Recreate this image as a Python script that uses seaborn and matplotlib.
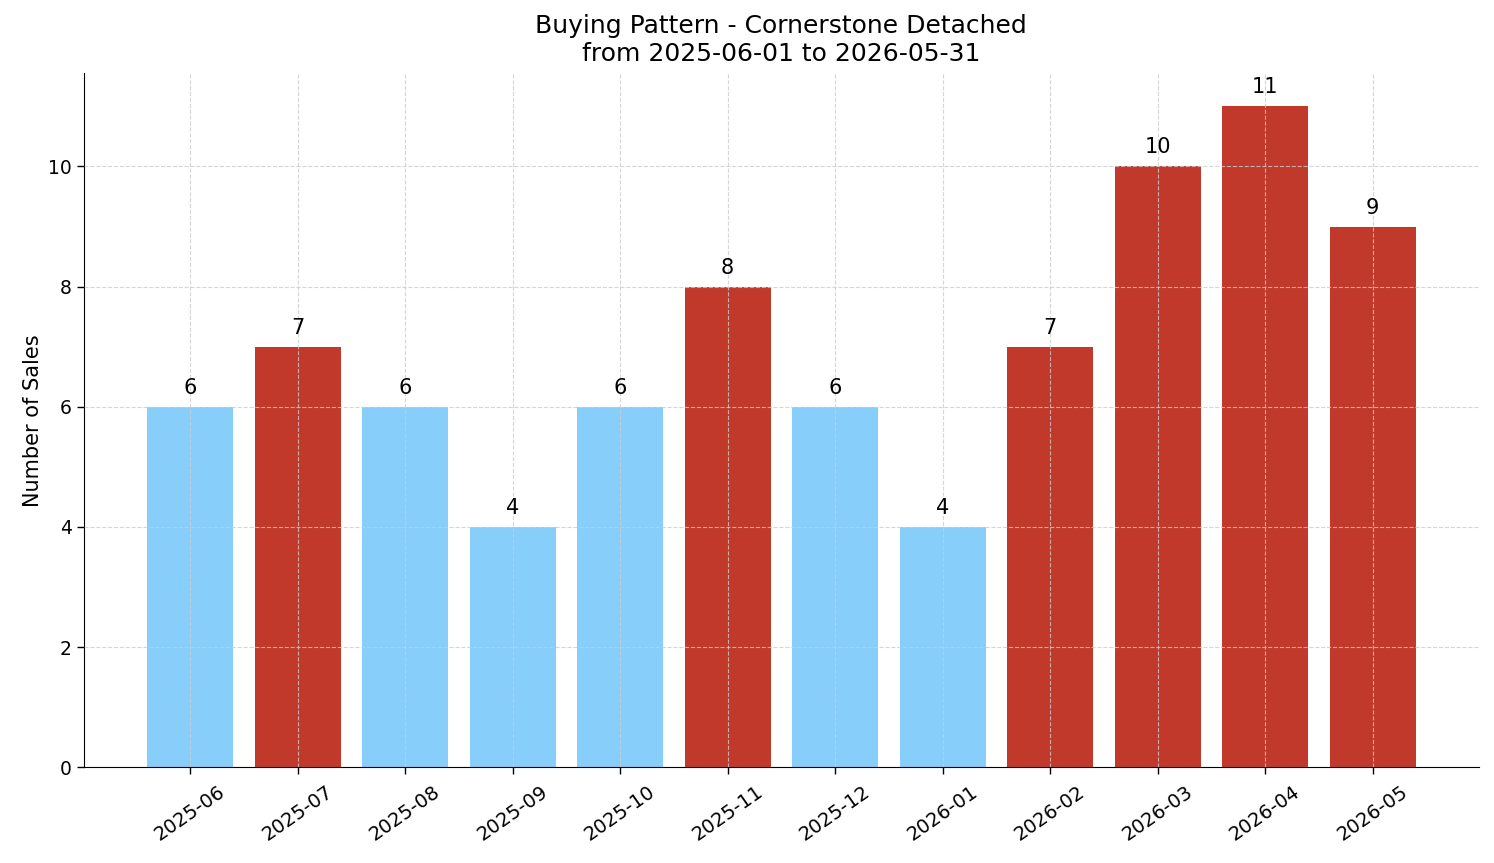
import matplotlib
matplotlib.use("Agg")
import matplotlib.pyplot as plt
import seaborn as sns
import pandas as pd
import numpy as np

months = ["2025-06", "2025-07", "2025-08", "2025-09", "2025-10", "2025-11",
          "2025-12", "2026-01", "2026-02", "2026-03", "2026-04", "2026-05"]
sales = [6, 7, 6, 4, 6, 8, 6, 4, 7, 10, 11, 9]

avg = np.mean(sales)
groups = ["high" if v >= avg else "low" for v in sales]
palette = {"high": "#C0392B", "low": "#87CEFA"}

df = pd.DataFrame({"month": months, "sales": sales, "group": groups})

sns.set_style("white")
plt.rcParams["font.family"] = ["DejaVu Sans"]
plt.rcParams.update({"text.color": "black", "axes.labelcolor": "black",
                     "xtick.color": "black", "ytick.color": "black",
                     "axes.edgecolor": "black"})

fig, ax = plt.subplots(figsize=(14.94, 8.63), dpi=100)
sns.barplot(data=df, x="month", y="sales", hue="group", palette=palette,
            dodge=False, width=0.8, saturation=1, legend=False, ax=ax,
            linewidth=0, edgecolor="none", zorder=1)

for i, v in enumerate(sales):
    ax.text(i, v + 0.15, str(v), ha="center", va="bottom", fontsize=15, color="black")

ax.grid(True, linestyle="--", color="#cccccc", alpha=0.8, linewidth=0.8, zorder=3)
ax.set_axisbelow(False)
for spine in ["top", "right"]:
    ax.spines[spine].set_visible(False)
ax.tick_params(axis="both", which="both", length=5, width=1, labelsize=13.5,
               bottom=True, left=True, colors="black")
ax.tick_params(axis="x", labelsize=14, pad=6)
plt.setp(ax.get_xticklabels(), rotation=35)
ax.set_xlabel("")
ax.set_ylabel("Number of Sales", fontsize=15)
ax.set_title("Buying Pattern - Cornerstone Detached\nfrom 2025-06-01 to 2026-05-31", fontsize=18, pad=9)
ax.set_ylim(0, 11.55)
ax.set_xlim(-0.99, 11.99)

fig.subplots_adjust(left=0.056, right=0.99, top=0.915, bottom=0.111)
fig.savefig("out.png", dpi=100)
